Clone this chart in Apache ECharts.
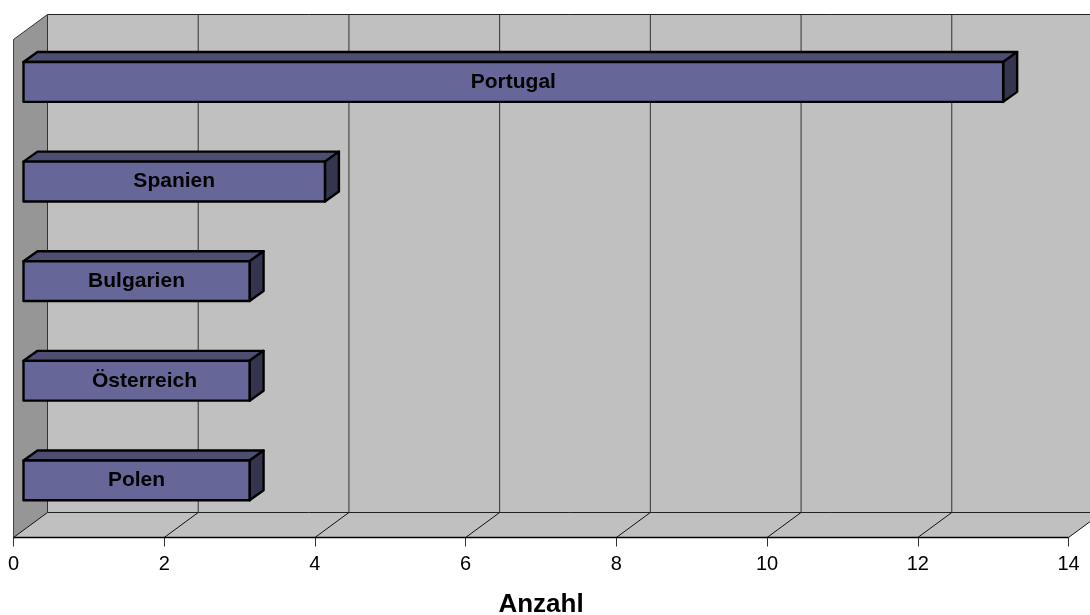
<!DOCTYPE html>
<html>
<head>
<meta charset="utf-8">
<style>html,body{margin:0;padding:0;background:#fff}#c{width:1090px;height:615px}</style>
<script src="https://cdn.jsdelivr.net/npm/echarts@6/dist/echarts.min.js"></script>
</head>
<body>
<div id="c"></div>
<script>
const categories = ['Portugal', 'Spanien', 'Bulgarien', 'Österreich', 'Polen'];
const values = [13, 4, 3, 3, 3];
const xMin = 0, xMax = 14, xStep = 2;
const gridValues = [0, 2, 4, 6, 8, 10, 12, 14];
const axisTitle = 'Anzahl';

const DX = 34, DY = -25;       // depth of the chart box
const BX = 10, BY = -7.35;     // bar plane offset from the front plane
const BDX = 14, BDY = -10;     // depth of a bar
const FONT = '"Liberation Sans", Arial, sans-serif';
const LABEL_NUDGE = {'Österreich': 8};  // the reference sets this label off-centre

const chart = echarts.init(document.getElementById('c'), null, {renderer: 'canvas'});

function poly(points, fill, stroke, lw) {
  return {type: 'polygon', shape: {points}, style: {fill, stroke: stroke || 'none', lineWidth: lw || 0, lineJoin: 'round'}};
}
function seg(x1, y1, x2, y2, color, lw) {
  return {type: 'line', shape: {x1, y1, x2, y2}, style: {stroke: color, lineWidth: lw || 1, fill: 'none'}};
}

chart.setOption({
  animation: false,
  backgroundColor: '#ffffff',
  grid: {left: 13.5, width: 1055, top: 39.5, height: 498, containLabel: false, outerBoundsMode: 'none'},
  xAxis: {
    type: 'value', min: xMin, max: xMax, interval: xStep,
    position: 'bottom',
    axisLine: {show: false},
    axisTick: {show: true, length: 9, lineStyle: {color: '#333', width: 1}},
    axisLabel: {color: '#000', fontFamily: FONT, fontSize: 20, margin: 17},
    splitLine: {show: false},
    name: axisTitle, nameLocation: 'middle', nameGap: 54,
    nameTextStyle: {color: '#000', fontFamily: FONT, fontSize: 26, fontWeight: 'bold'}
  },
  yAxis: {
    type: 'category', data: categories, inverse: true,
    axisLine: {show: false}, axisTick: {show: false}, axisLabel: {show: false}, splitLine: {show: false}
  },
  series: [
    {
      name: 'walls', type: 'custom', silent: true, clip: false, z: 1,
      data: [[0, 0]],
      renderItem(params, api) {
        const x0 = api.coord([xMin, 0])[0], x1 = api.coord([xMax, 0])[0];
        const cs = params.coordSys, top = cs.y, bot = cs.y + cs.height;
        return {type: 'group', children: [
          poly([[x0 + DX, top + DY], [x1 + DX, top + DY], [x1 + DX, bot + DY], [x0 + DX, bot + DY]], '#c0c0c0'),
          poly([[x0, bot], [x1, bot], [x1 + DX, bot + DY], [x0 + DX, bot + DY]], '#c0c0c0'),
          poly([[x0, top], [x0 + DX, top + DY], [x0 + DX, bot + DY], [x0, bot]], '#969696'),
          seg(x0 + DX, top + DY, x1 + DX, top + DY, '#222'),
          seg(x0 + DX, bot + DY, x1 + DX, bot + DY, '#222'),
          seg(x0, top, x0 + DX, top + DY, '#333'),
          seg(x0, top, x0, bot, '#444'),
          seg(x0, bot, x1, bot, '#000', 1.5)
        ]};
      }
    },
    {
      name: 'gridlines', type: 'custom', silent: true, clip: false, z: 2,
      data: gridValues.map(v => [v, 0]),
      renderItem(params, api) {
        const x = api.coord([api.value(0), 0])[0];
        const cs = params.coordSys, top = cs.y, bot = cs.y + cs.height;
        return {type: 'group', children: [
          seg(x, bot, x + DX, bot + DY, '#111'),
          seg(x + DX, bot + DY, x + DX, top + DY, '#333')
        ]};
      }
    },
    {
      name: 'Anzahl', type: 'custom', clip: false, z: 3,
      data: values.map((v, i) => [v, i]),
      renderItem(params, api) {
        const i = api.value(1);
        const end = api.coord([api.value(0), i]);
        const start = api.coord([0, i]);
        const h = api.size([0, 1])[1] * 0.4;
        const l = start[0] + BX, r = end[0] + BX;
        const t = end[1] + BY - h / 2, b = end[1] + BY + h / 2;
        const o = '#000';
        return {type: 'group', children: [
          poly([[l, t], [l + BDX, t + BDY], [r + BDX, t + BDY], [r, t]], '#4e4e72', o, 2.4),
          poly([[r, t], [r + BDX, t + BDY], [r + BDX, b + BDY], [r, b]], '#35354f', o, 2.4),
          poly([[l, t], [r, t], [r, b], [l, b]], '#666699', o, 2.4),
          {type: 'text', style: {
            x: (l + r) / 2 + (LABEL_NUDGE[categories[i]] || 0), y: (t + b) / 2, text: categories[i],
            fill: '#000', font: 'bold 21px ' + FONT, align: 'center', verticalAlign: 'middle'
          }}
        ]};
      }
    }
  ]
});
</script>
</body>
</html>
